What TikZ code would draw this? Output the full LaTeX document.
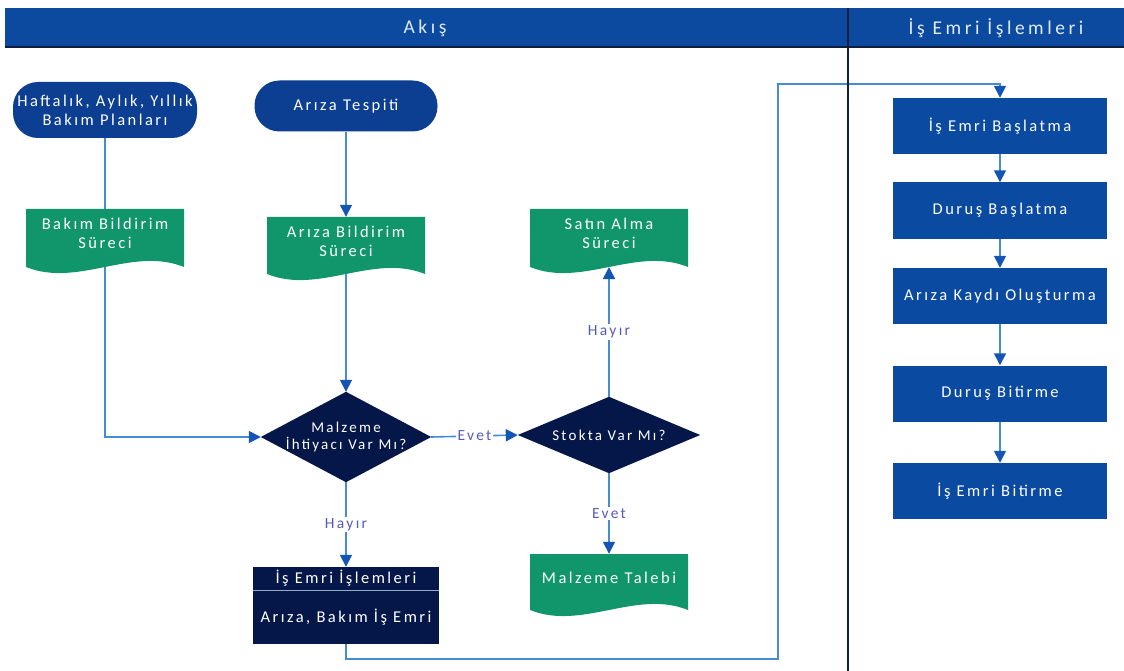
\documentclass[tikz,border=0pt]{standalone}
\usepackage{fontspec}
\setmainfont{Carlito}[LetterSpace=15]
\newfontfamily\hdrfont{Carlito}[LetterSpace=18]
\usetikzlibrary{shapes.geometric,arrows.meta,backgrounds}
\definecolor{hdrblue}{RGB}{11,74,158}
\definecolor{hdrtext}{RGB}{225,235,250}
\definecolor{termblue}{RGB}{12,62,145}
\definecolor{boxblue}{RGB}{10,74,160}
\definecolor{docgreen}{RGB}{16,150,106}
\definecolor{navy}{RGB}{5,22,72}
\definecolor{linkblue}{RGB}{70,140,210}
\definecolor{tipblue}{RGB}{20,85,180}
\definecolor{lblcol}{RGB}{85,90,190}
\definecolor{divcol}{RGB}{15,30,60}
\definecolor{sepcol}{RGB}{150,170,200}
\tikzset{
  x=1pt,y=-1pt,
  txt/.style={text=white, align=center, inner sep=0pt},
  term/.style={txt, fill=termblue, rounded corners=25pt, font=\fontsize{16.5}{19}\selectfont},
  pbox/.style={txt, fill=boxblue, minimum width=214pt, minimum height=56pt, font=\fontsize{16.5}{19}\selectfont},
  dtext/.style={txt, font=\fontsize{15}{17}\selectfont},
  doctext/.style={txt, minimum width=158pt, minimum height=48pt, font=\fontsize{16.5}{19}\selectfont},
  docfill/.style={fill=docgreen},
  navybox/.style={txt, fill=navy, minimum width=186pt, font=\fontsize{16.5}{19}\selectfont},
  link/.style={draw=linkblue, line width=1.6pt},
  arr/.style={link, -{Triangle[color=tipblue, width=12pt, length=12pt]}},
  lbl/.style={text=lblcol, fill=white, inner sep=1.5pt, font=\fontsize{15.5}{18}\selectfont},
  hdr/.style={text=hdrtext, font=\hdrfont\fontsize{19.5}{22}\selectfont},
}
\newcommand\docshape[3]{%
  \fill[docfill] (#1-79,#2) -- (#1+79,#2) -- (#1+79,#3)
    .. controls (#1+27,#3-21) and (#1-27,#3+21) .. (#1-79,#3) -- cycle;}
\begin{document}
\begin{tikzpicture}
\useasboundingbox (0,0) rectangle (1124,671);
% header
\fill[hdrblue] (5,8) rectangle (1124,47);
\draw[divcol, line width=1.2pt] (5,47) -- (1124,47);
\node[hdr] (hakis) at (425,28) {Akış};
\node[hdr] (hisemri) at (996,28) {İş Emri İşlemleri};

% terminals
\node[term, minimum width=184pt, minimum height=56pt] (haft) at (105,110) {Haftalık, Aylık, Yıllık\\Bakım Planları};
\node[term, minimum width=183pt, minimum height=51pt] (tesp) at (346,106) {Arıza Tespiti};

% documents
\docshape{105}{209}{267}
\node[doctext] (bakim) at (105,233) {Bakım Bildirim\\Süreci};
\docshape{346}{217}{274}
\node[doctext] (ariza) at (346,241) {Arıza Bildirim\\Süreci};
\coordinate (ariza-w) at (346,274);
\docshape{609}{209}{267}
\node[doctext] (satin) at (609,233) {Satın Alma\\Süreci};
\coordinate (satin-w) at (609,267);
\docshape{609}{554}{610}
\node[doctext] (talep) at (609,578) {Malzeme Talebi};

% decisions (text nodes sized as the diamonds' bounding boxes)
\node[dtext, minimum width=170pt, minimum height=90pt] (d1) at (346,437) {Malzeme\\İhtiyacı Var Mı?};
\node[dtext, minimum width=182pt, minimum height=76pt] (d2) at (609,435) {Stokta Var Mı?};

% work order box
\node[navybox, minimum height=23pt] (iseh) at (346,578.5) {İş Emri İşlemleri};
\node[navybox, minimum height=53pt] (isb) at (346,617.5) {Arıza, Bakım İş Emri};
\draw[sepcol, line width=0.8pt] (iseh.south west) -- (iseh.south east);

% right column
\node[pbox] (b1) at (1000,126) {İş Emri Başlatma};
\node[pbox] (b2) at (1000,210.5) {Duruş Başlatma};
\node[pbox] (b3) at (1000,296) {Arıza Kaydı Oluşturma};
\node[pbox] (b4) at (1000,393.5) {Duruş Bitirme};
\node[pbox] (b5) at (1000,491) {İş Emri Bitirme};

\coordinate (c1) at (778,659);
\coordinate (c2) at (778,84);

\begin{scope}[on background layer]
\fill[navy] (d1.north) -- (d1.east) -- (d1.south) -- (d1.west) -- cycle;
\fill[navy] (d2.north) -- (d2.east) -- (d2.south) -- (d2.west) -- cycle;
\draw[arr] (haft.south) |- (d1.west);
\draw[arr] (tesp.south) -- (ariza.north);
\draw[arr] (ariza-w) -- (d1.north);
\draw[arr] (d1.east) -- node[lbl] (levet1) {Evet} (d2.west);
\draw[arr] (d1.south) -- node[lbl] (lhayir1) {Hayır} (iseh.north);
\draw[arr] (d2.north) -- node[lbl] (lhayir2) {Hayır} (satin-w);
\draw[arr] (d2.south) -- node[lbl] (levet2) {Evet} (talep.north);
\draw[arr] (isb.south) |- (c1) -- (c2) -| (b1.north);
\draw[arr] (b1) -- (b2);
\draw[arr] (b2) -- (b3);
\draw[arr] (b3) -- (b4);
\draw[arr] (b4) -- (b5);
\end{scope}

% divider
\draw[divcol, line width=1.8pt] (848,8) -- (848,671);
\end{tikzpicture}
\end{document}
